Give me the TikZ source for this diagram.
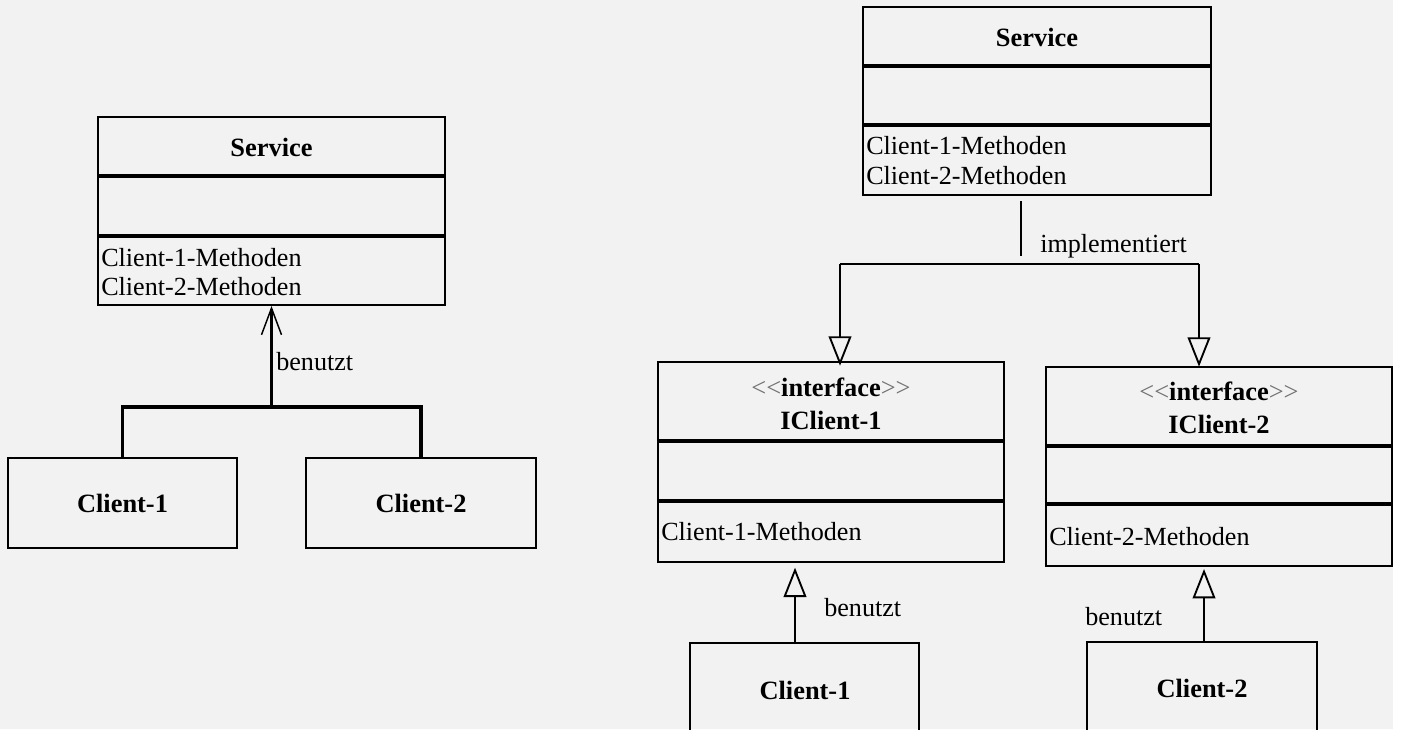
\documentclass[tikz,border=0pt]{standalone}
\usepackage{fontspec}
\setmainfont{Liberation Serif}
\usetikzlibrary{arrows.meta,fit}
\definecolor{paper}{HTML}{F2F2F2}
\definecolor{guill}{HTML}{707070}
\newcommand\stereotype{{\mdseries\color{guill}<\kern0pt<}interface{\mdseries\color{guill}>\kern0pt>}}

\begin{document}
\begin{tikzpicture}[x=0.75pt,y=-0.75pt,
  font=\fontsize{19.6}{23}\selectfont,
  umlbox/.style={draw, line width=1.5pt, inner sep=0pt, fit={#1}},
  sep/.style={line width=2.6pt},
  title/.style={font=\fontsize{19.8}{23}\selectfont\bfseries, inner sep=0pt},
  meth/.style={anchor=west, inner sep=0pt},
  lbl/.style={anchor=west, inner sep=0pt},
  useL/.style={line width=2.6pt},
  impl/.style={line width=1.5pt},
  barb/.style={-{Straight Barb[length=20pt,width=15pt,line width=1.1pt]}},
  tri/.style={-{Triangle[open,length=22pt,width=17pt,line width=1.4pt]}},
]
\clip (0,0) rectangle (1401,729);
\fill[paper] (0,0) rectangle (1393,729);

% ---------- left: one service used by both clients ----------
\node[umlbox={(98,117)(445,305)}] (svcL) {};
\draw[sep] (svcL.west |- 0,176) -- (svcL.east |- 0,176);
\draw[sep] (svcL.west |- 0,236) -- (svcL.east |- 0,236);
\node[title] (svcLt) at (271.5,147) {Service};
\node[meth] (svcLm1) at (101,258) {Client-1-Methoden};
\node[meth] (svcLm2) at (101,287) {Client-2-Methoden};

\node[umlbox={(8,458)(237,548)}] (c1L) {};
\node[title] (c1Lt) at (c1L) {Client-1};
\node[umlbox={(306,458)(536,548)}] (c2L) {};
\node[title] (c2Lt) at (c2L) {Client-2};

\coordinate (forkL) at (271.5,407);
\draw[useL] (c1L.north) |- (forkL) -| (c2L.north);
\draw[useL, barb] (forkL) -- (svcL.south);
\node[lbl] (useLlbl) at (276,362) {benutzt};

% ---------- right: segregated interfaces ----------
\node[umlbox={(863,7)(1211,195)}] (svcR) {};
\draw[sep] (svcR.west |- 0,66) -- (svcR.east |- 0,66);
\draw[sep] (svcR.west |- 0,125) -- (svcR.east |- 0,125);
\node[title] (svcRt) at (1037,37) {Service};
\node[meth] (svcRm1) at (866,146) {Client-1-Methoden};
\node[meth] (svcRm2) at (866,176) {Client-2-Methoden};

\node[umlbox={(658,362)(1004,562)}] (ic1) {};
\draw[sep] (ic1.west |- 0,441) -- (ic1.east |- 0,441);
\draw[sep] (ic1.west |- 0,501) -- (ic1.east |- 0,501);
\node[title] (ic1s) at (831,387) {\stereotype};
\node[title] (ic1t) at (831,420) {IClient-1};
\node[meth] (ic1m) at (661,532) {Client-1-Methoden};

\node[umlbox={(1046,367)(1392,566)}] (ic2) {};
\draw[sep] (ic2.west |- 0,446) -- (ic2.east |- 0,446);
\draw[sep] (ic2.west |- 0,504) -- (ic2.east |- 0,504);
\node[title] (ic2s) at (1219,391) {\stereotype};
\node[title] (ic2t) at (1219,424) {IClient-2};
\node[meth] (ic2m) at (1049,537) {Client-2-Methoden};

\node[umlbox={(690,643)(919,760)}] (c1R) {};
\node[title] (c1Rt) at (805,690) {Client-1};
\node[umlbox={(1087,642)(1317,760)}] (c2R) {};
\node[title] (c2Rt) at (1202,688) {Client-2};

% implementation links
\coordinate (stemTop) at (1021,201);
\coordinate (stemBot) at (1021,256);
\draw[impl] (stemTop) -- (stemBot);
\node[lbl] (impllbl) at (1040,246) {implementiert};
\coordinate (forkRl) at (840,264);
\coordinate (forkRr) at (1199,264);
\draw[impl] (forkRl) -- (forkRr);
\draw[impl, tri, shorten >=-3.5pt] (forkRl) -- (forkRl |- ic1.north);
\draw[impl, tri, shorten >=-0.5pt] (forkRr) -- (forkRr |- ic2.north);

% usage links
\draw[impl, tri, shorten >=3.5pt] (c1R.north -| 795,0) -- (ic1.south -| 795,0);
\node[lbl] (use1lbl) at (824,608) {benutzt};
\draw[impl, tri, shorten >=1.5pt] (c2R.north -| 1204,0) -- (ic2.south -| 1204,0);
\node[lbl] (use2lbl) at (1085,617) {benutzt};
\end{tikzpicture}
\end{document}
